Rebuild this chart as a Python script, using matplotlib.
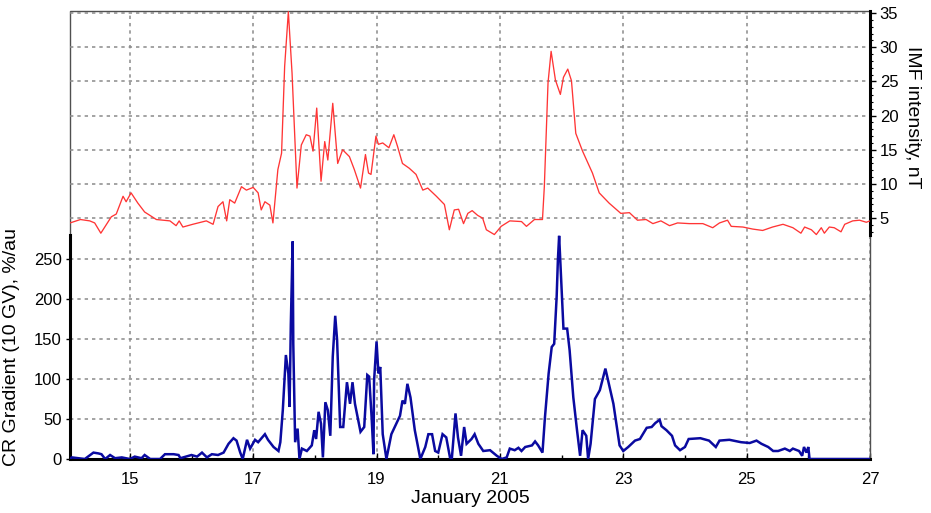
import matplotlib
matplotlib.use("Agg")
import matplotlib.pyplot as plt
from matplotlib.patches import Rectangle

plt.rcParams['font.family'] = ['Liberation Sans', 'DejaVu Sans']

# IMF intensity (nT) - red, right axis
imf_day = [14.03, 14.2, 14.35, 14.43, 14.53, 14.7, 14.78, 14.89, 14.94, 15.02, 15.13, 15.24,
           15.43, 15.65, 15.75, 15.8, 15.86, 16.02, 16.24, 16.35, 16.43, 16.51, 16.57, 16.62,
           16.7, 16.81, 16.89, 17.0, 17.08, 17.13, 17.19, 17.27, 17.32, 17.4, 17.46, 17.51,
           17.57, 17.63, 17.71, 17.78, 17.86, 17.92, 17.97, 18.03, 18.1, 18.16, 18.21, 18.29,
           18.37, 18.45, 18.56, 18.64, 18.74, 18.82, 18.87, 18.91, 18.99, 19.03, 19.1, 19.2,
           19.28, 19.34, 19.42, 19.53, 19.64, 19.75, 19.83, 19.97, 20.1, 20.18, 20.26, 20.33,
           20.41, 20.48, 20.55, 20.64, 20.72, 20.78, 20.91, 21.02, 21.16, 21.35, 21.43, 21.56,
           21.69, 21.72, 21.78, 21.83, 21.9, 21.98, 22.03, 22.1, 22.16, 22.23, 22.34, 22.5,
           22.61, 22.77, 22.96, 23.1, 23.23, 23.37, 23.48, 23.61, 23.75, 23.88, 24.07, 24.29,
           24.45, 24.56, 24.69, 24.75, 24.94, 25.1, 25.26, 25.42, 25.59, 25.75, 25.88, 25.94,
           26.05, 26.13, 26.21, 26.26, 26.34, 26.42, 26.53, 26.59, 26.72, 26.83, 26.94, 27.0]
imf_val = [4.3, 4.8, 4.6, 4.3, 2.8, 5.2, 5.6, 8.2, 7.4, 8.7, 7.2, 5.9,
           4.8, 4.6, 3.9, 4.6, 3.7, 4.1, 4.6, 4.1, 6.7, 7.4, 4.6, 7.7,
           7.2, 9.6, 9.1, 9.5, 8.7, 6.2, 7.4, 6.9, 4.3, 12.1, 14.5, 27.2,
           35.2, 26.2, 9.4, 15.7, 17.2, 17.0, 14.8, 21.1, 10.4, 16.2, 13.5, 21.8,
           13.0, 15.0, 14.0, 12.1, 9.4, 14.3, 11.6, 11.4, 17.0, 15.8, 16.0, 15.3,
           17.2, 15.5, 13.0, 12.3, 11.4, 9.1, 9.4, 8.2, 7.0, 3.3, 6.2, 6.3,
           4.2, 5.7, 6.1, 5.4, 5.0, 3.3, 2.6, 3.8, 4.6, 4.5, 3.8, 4.8,
           4.8, 9.6, 24.8, 29.4, 25.2, 23.1, 25.6, 26.8, 25.1, 17.4, 14.8, 11.6,
           8.7, 7.2, 5.7, 5.8, 4.7, 4.8, 4.2, 4.6, 3.9, 4.3, 4.2, 4.2,
           3.6, 4.3, 4.7, 3.8, 3.7, 3.4, 3.2, 3.7, 4.1, 3.6, 2.8, 3.7,
           3.3, 2.6, 3.6, 2.8, 3.7, 3.6, 3.0, 4.1, 4.6, 4.7, 4.4, 4.6]

# CR gradient (10 GV), %/au - blue, left axis
cr_day = [14.03, 14.06, 14.27, 14.41, 14.49, 14.54, 14.6, 14.68, 14.76, 14.87, 15.0, 15.08,
          15.19, 15.24, 15.33, 15.49, 15.57, 15.71, 15.79, 15.82, 16.0, 16.09, 16.17, 16.25,
          16.33, 16.43, 16.52, 16.6, 16.68, 16.73, 16.79, 16.83, 16.9, 16.95, 17.03, 17.08,
          17.19, 17.24, 17.33, 17.41, 17.44, 17.48, 17.53, 17.57, 17.59, 17.61, 17.64, 17.65,
          17.68, 17.72, 17.75, 17.79, 17.87, 17.95, 17.99, 18.02, 18.06, 18.1, 18.13, 18.17,
          18.21, 18.25, 18.29, 18.33, 18.36, 18.41, 18.46, 18.52, 18.57, 18.61, 18.65, 18.74,
          18.8, 18.85, 18.88, 18.92, 18.95, 18.96, 19.0, 19.03, 19.06, 19.1, 19.16, 19.24,
          19.38, 19.42, 19.46, 19.5, 19.55, 19.62, 19.71, 19.79, 19.84, 19.9, 19.95, 20.0,
          20.07, 20.13, 20.19, 20.22, 20.28, 20.32, 20.37, 20.42, 20.46, 20.54, 20.59, 20.65,
          20.73, 20.84, 20.95, 21.03, 21.11, 21.16, 21.24, 21.3, 21.35, 21.41, 21.52, 21.57,
          21.62, 21.69, 21.73, 21.79, 21.84, 21.88, 21.92, 21.94, 21.96, 21.98, 22.01, 22.03,
          22.09, 22.13, 22.19, 22.25, 22.3, 22.34, 22.4, 22.43, 22.47, 22.54, 22.62, 22.71,
          22.76, 22.84, 22.94, 23.0, 23.08, 23.19, 23.27, 23.38, 23.46, 23.52, 23.59, 23.62,
          23.7, 23.79, 23.84, 23.92, 24.0, 24.06, 24.25, 24.39, 24.5, 24.56, 24.72, 24.91,
          25.05, 25.16, 25.24, 25.35, 25.43, 25.51, 25.62, 25.7, 25.75, 25.85, 25.9, 25.93,
          25.97, 26.0, 26.02, 27.0]
cr_val = [0, 2, 0, 8, 7, 6, 0, 5, 1, 2, 0, 3,
          1, 5, 0, 0, 6, 6, 5, 1, 5, 3, 8, 2,
          6, 5, 8, 19, 26, 23, 8, 0, 24, 13, 24, 21,
          31, 24, 15, 10, 21, 61, 130, 107, 65, 168, 272, 144,
          21, 38, 0, 13, 10, 17, 36, 25, 59, 44, 2, 71,
          61, 29, 128, 179, 149, 40, 40, 96, 69, 96, 69, 34,
          40, 105, 103, 52, 6, 98, 147, 107, 115, 31, 0, 31,
          54, 73, 69, 94, 77, 36, 0, 15, 31, 31, 10, 8,
          31, 27, 2, 0, 57, 27, 4, 40, 19, 25, 31, 19,
          10, 11, 4, 0, 2, 13, 11, 14, 10, 15, 17, 22,
          17, 8, 52, 107, 140, 144, 203, 249, 279, 245, 195, 163,
          163, 136, 77, 36, 4, 36, 29, 0, 19, 75, 86, 113,
          96, 69, 17, 10, 15, 23, 25, 39, 40, 45, 49, 41,
          36, 29, 17, 11, 15, 25, 26, 23, 15, 23, 24, 21,
          20, 23, 19, 15, 10, 10, 13, 10, 13, 10, 4, 15,
          8, 15, 0, 0]

x_major = [15, 17, 19, 21, 23, 25, 27]
x_minor = [16, 18, 20, 22, 24, 26]
left_ticks = [0, 50, 100, 150, 200, 250]
right_ticks = [5, 10, 15, 20, 25, 30, 35]

W, H = 931, 513
fig = plt.figure(figsize=(W / 100, H / 100), dpi=100)
L, R, T, B = 70, 870, 11, 459
ax = fig.add_axes([L / W, 1 - B / H, (R - L) / W, (B - T) / H])
ax2 = ax.twinx()

grid_kw = dict(color='#8a8a8a', linewidth=1.1, linestyle=(0, (2.2, 2.6)))

ax.plot(cr_day, cr_val, color='#0a0aa0', linewidth=1.8, zorder=3, solid_joinstyle='miter')
ax.set_xlim(14.03, 27.0)
ax.set_ylim(0, 560)
ax.set_yticks(left_ticks)
ax.set_xticks(x_major)
ax.set_xticks(x_minor, minor=True)
ax.set_xticklabels([str(v) for v in x_major])
ax.grid(True, axis='both', which='major', **grid_kw)
ax.set_axisbelow(True)

ax2.plot(imf_day, imf_val, color='#ff3535', linewidth=0.95, zorder=3)
ax2.set_ylim(-30.23, 35.3)
ax2.set_yticks(right_ticks)
ax2.set_yticks(list(range(3, 36)), minor=True)
ax2.grid(True, axis='y', which='major', **grid_kw)

# spines
for s in ['top', 'right', 'left', 'bottom']:
    ax2.spines[s].set_visible(False)
ax.spines['top'].set_visible(False)
ax.spines['right'].set_visible(False)
ax.spines['left'].set_bounds(0, 280)
ax.spines['left'].set_linewidth(2.2)
ax.spines['left'].set_color('black')
ax.spines['bottom'].set_linewidth(2.2)
ax.spines['bottom'].set_color('black')
ax2.spines['right'].set_visible(True)
ax2.spines['right'].set_bounds(2.5, 35.3)
ax2.spines['right'].set_linewidth(2.2)
ax2.spines['right'].set_color('black')

frame = Rectangle((0, 0), 1, 1, transform=ax.transAxes, fill=False,
                  edgecolor='#505050', linewidth=1.0, zorder=1, clip_on=False)
ax.add_patch(frame)

fs_tick = 12
ax.tick_params(axis='y', direction='out', length=3, width=1, pad=3, labelsize=fs_tick)
ax.tick_params(axis='x', which='major', direction='in', length=4, width=1, pad=9, labelsize=fs_tick)
ax.tick_params(axis='x', which='minor', direction='in', length=3, width=1)
ax2.tick_params(axis='y', which='major', direction='out', length=4, width=1, pad=3, labelsize=fs_tick)
ax2.tick_params(axis='y', which='minor', direction='out', length=2, width=0.8)

ax.set_ylabel('CR Gradient (10 GV), %/au', fontsize=14)
ax.yaxis.set_label_coords(-0.062, 0.25)
ax2.set_ylabel('IMF intensity, nT', fontsize=14, rotation=270, va='center')
ax2.yaxis.set_label_coords(1.0525, 0.763)
ax.set_xlabel('January 2005', fontsize=14, va='center')
ax.xaxis.set_label_coords(0.5, -0.088)

fig.savefig('out.png', dpi=100)
